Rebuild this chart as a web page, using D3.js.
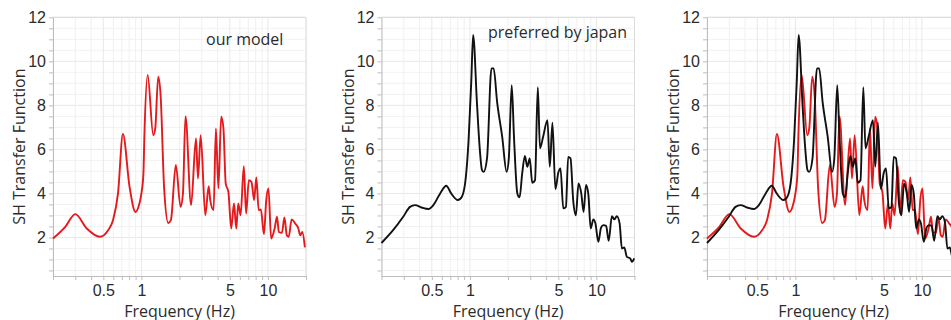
<!DOCTYPE html>
<html>
<head>
<meta charset="utf-8">
<script src="https://cdn.jsdelivr.net/npm/d3@7"></script>
<style>
  body { margin: 0; background: #fff; }
  svg { display: block; font-family: "Open Sans", sans-serif; }
</style>
</head>
<body>
<svg id="chart" width="951" height="320"></svg>
<script>
// SH transfer function
const ourModelFreq = [0.2, 0.25, 0.30, 0.37, 0.47, 0.545, 0.597, 0.653, 0.714, 0.806, 0.898, 0.965, 1.0, 1.037, 1.055,
  1.12, 1.24, 1.286, 1.358, 1.42, 1.51, 1.63, 1.71, 1.87, 2.04, 2.13, 2.23, 2.47, 2.7, 2.8, 2.94, 3.2, 3.4, 3.5, 3.72,
  3.88, 4.06, 4.27, 4.45, 4.64, 4.87, 5.13, 5.39, 5.62, 5.83, 6.08, 6.45, 6.72, 7.07, 7.41, 7.78, 8.1, 8.45, 8.8, 9.3,
  9.7, 10.1, 10.6, 11.3, 11.8, 12.2, 12.9, 13.5, 14.1, 14.6, 15.4, 16.4, 17.4, 18.0, 18.7, 19.6];
const ourModelAmp = [1.95, 2.48, 3.06, 2.41, 2.03, 2.33, 2.79, 4.0, 6.7, 4.3, 3.16, 3.55, 4.0, 4.9, 6.57,
  9.38, 6.65, 6.95, 9.3, 8.4, 4.3, 2.66, 2.79, 5.29, 3.39, 4.0, 7.51, 3.47, 6.5, 4.68, 6.65, 3.01, 4.33, 3.7, 3.24,
  6.95, 4.23, 7.48, 6.95, 4.45, 4.07, 2.41, 3.55, 2.41, 3.55, 3.01, 5.24, 3.09, 4.6, 4.53, 3.7, 4.73, 3.24, 3.27, 2.15,
  3.7, 4.23, 1.95, 2.41, 2.94, 2.25, 2.21, 2.91, 2.1, 2.03, 2.82, 2.64, 2.41, 2.1, 2.25, 1.55];

const japanFreq = [0.2, 0.247, 0.297, 0.336, 0.368, 0.415, 0.47, 0.514, 0.582, 0.65, 0.711, 0.803, 0.864, 0.929, 0.976,
  1.026, 1.06, 1.137, 1.19, 1.246, 1.285, 1.365, 1.48, 1.54, 1.64, 1.8, 1.95, 2.03, 2.14, 2.23, 2.37, 2.47, 2.59, 2.72,
  2.84, 2.97, 3.11, 3.27, 3.44, 3.58, 3.79, 4.1, 4.28, 4.49, 4.74, 5.0, 5.2, 5.47, 5.74, 5.98, 6.24, 6.55, 6.88, 7.22,
  7.59, 7.92, 8.27, 8.63, 9.01, 9.46, 9.82, 10.35, 10.88, 11.36, 11.93, 12.51, 13.25, 13.85, 14.5, 15.25, 15.9, 16.6,
  17.4, 18.5, 19.1, 19.9];
const japanAmp = [1.75, 2.33, 2.94, 3.39, 3.47, 3.36, 3.29, 3.47, 4.0, 4.35, 4.0, 3.7, 3.85, 4.75, 6.42,
  9.15, 11.2, 8.09, 6.2, 5.06, 4.98, 5.59, 9.68, 9.68, 8.16, 6.57, 4.98, 5.59, 8.92, 6.57, 4.0, 3.82, 4.91, 5.7,
  5.21, 5.59, 4.48, 4.6, 8.82, 6.05, 6.57, 7.33, 5.21, 7.21, 4.2, 4.95, 5.14, 3.32, 3.39, 5.66, 5.59, 3.7, 3.01, 4.45,
  4.0, 3.16, 4.38, 3.97, 2.41, 2.82, 2.64, 1.8, 2.45, 2.56, 2.53, 1.85, 2.97, 2.82, 2.97, 2.64, 1.5, 1.55,
  1.12, 1.05, 0.89, 1.05];

const xLabelTicks = [0.5, 1, 5, 10];
const yLabelTicks = [2, 4, 6, 8, 10, 12];

const ourModel = ourModelFreq.map((f, i) => ({f: f, v: ourModelAmp[i]}));
const japan = japanFreq.map((f, i) => ({f: f, v: japanAmp[i]}));

const red = "#e3191c";
const black = "#111";

const dims = {
  width: 253,
  top: 17.3,
  bottom: 276,
};

const panels = [
  {left: 53, lines: [{data: ourModel, color: red}], note: "our model", noteX: 206, noteY: 45},
  {left: 381.5, lines: [{data: japan, color: black}], note: "preferred by japan", noteX: 488, noteY: 38},
  {left: 707, lines: [{data: ourModel, color: red}, {data: japan, color: black}], note: null},
];

// log minor positions 0.2 .. 20
const logTicks = [];
[0.1, 1, 10].forEach(d => { for (let k = 1; k <= 9; k++) { const t = +(k * d).toFixed(2); if (t >= 0.2 && t <= 20) logTicks.push(t); } });
const halfTicks = d3.range(0.5, 12.01, 0.5);

const svg = d3.select("#chart");

panels.forEach(p => {
  const x = d3.scaleLog().domain([0.2, 20]).range([p.left, p.left + dims.width]);
  const y = d3.scaleLinear().domain([0.25, 12]).range([dims.bottom, dims.top]);
  const g = svg.append("g");

  // grid
  g.append("g")
    .selectAll("line")
    .data(halfTicks)
    .join("line")
    .attr("x1", p.left).attr("x2", p.left + dims.width)
    .attr("y1", d => y(d)).attr("y2", d => y(d))
    .attr("stroke", d => d % 2 === 0 ? "#e8e8e8" : "#f2f2f2");

  g.append("g")
    .selectAll("line")
    .data(logTicks)
    .join("line")
    .attr("x1", d => x(d)).attr("x2", d => x(d))
    .attr("y1", dims.top).attr("y2", dims.bottom)
    .attr("stroke", d => xLabelTicks.includes(d) ? "#e8e8e8" : "#f0f0f0");

  // frame top/right
  g.append("path")
    .attr("d", `M${p.left},${dims.top}H${p.left + dims.width}V${dims.bottom}`)
    .attr("fill", "none")
    .attr("stroke", "#dcdcdc");

  // axes
  g.append("g")
    .attr("transform", `translate(0,${dims.bottom})`)
    .call(d3.axisBottom(x).tickValues(logTicks).tickSizeInner(4).tickSizeOuter(0).tickPadding(5)
      .tickFormat(d => xLabelTicks.includes(d) ? String(d) : ""))
    .call(a => a.selectAll("path, line").attr("stroke", "#bdbdbd"))
    .call(a => a.selectAll("text").attr("fill", "#2b2b2b").style("font-size", "16px"));

  g.append("g")
    .attr("transform", `translate(${p.left},0)`)
    .call(d3.axisLeft(y).tickValues(halfTicks).tickSizeInner(4).tickSizeOuter(0).tickPadding(3)
      .tickFormat(d => yLabelTicks.includes(d) ? String(d) : ""))
    .call(a => a.selectAll("path, line").attr("stroke", "#bdbdbd"))
    .call(a => a.selectAll("text").attr("fill", "#2b2b2b").style("font-size", "16px"));

  // titles
  g.append("text")
    .attr("x", p.left + dims.width / 2)
    .attr("y", 316.5)
    .attr("text-anchor", "middle")
    .attr("fill", "#2b2b2b")
    .style("font-size", "16px")
    .text("Frequency (Hz)");

  g.append("text")
    .attr("transform", `translate(${p.left - 28},${(dims.top + dims.bottom) / 2}) rotate(-90)`)
    .attr("text-anchor", "middle")
    .attr("fill", "#2b2b2b")
    .style("font-size", "16px")
    .text("SH Transfer Function");

  if (p.note) {
    g.append("text")
      .attr("x", p.noteX)
      .attr("y", p.noteY)
      .attr("fill", "#2b2b2b")
      .style("font-size", "16px")
      .text(p.note);
  }

  const line = d3.line()
    .x(d => x(d.f))
    .y(d => y(d.v))
    .curve(d3.curveMonotoneX);

  p.lines.forEach(s => {
    g.append("path")
      .attr("d", line(s.data))
      .attr("fill", "none")
      .attr("stroke", s.color)
      .attr("stroke-width", 1.9)
      .attr("stroke-linejoin", "round");
  });
});
</script>
</body>
</html>
